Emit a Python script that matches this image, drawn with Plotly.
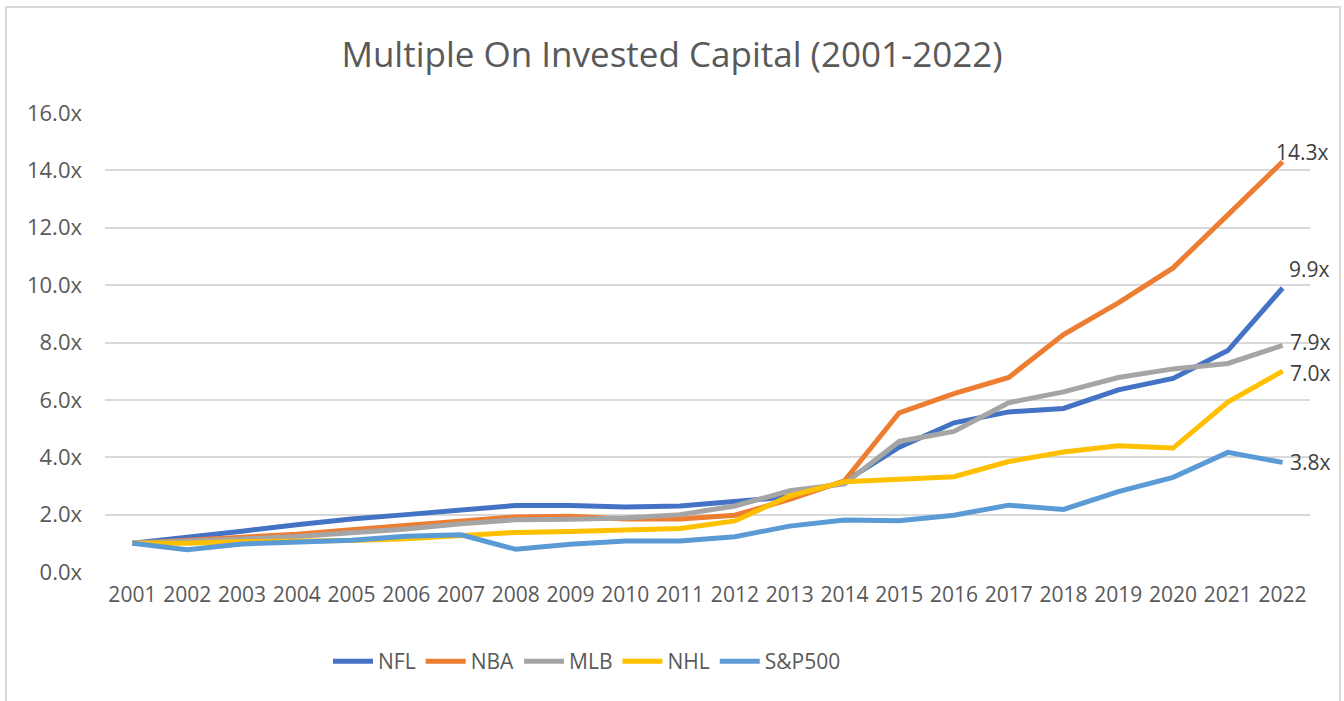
import plotly.graph_objects as go

years = [str(y) for y in range(2001, 2023)]
nfl = [1.0, 1.2, 1.42, 1.65, 1.85, 2.0, 2.15, 2.32, 2.32, 2.27, 2.3, 2.46, 2.62, 3.15, 4.35, 5.2, 5.58, 5.7, 6.35, 6.75, 7.72, 9.9]
nba = [1.0, 1.1, 1.2, 1.32, 1.47, 1.63, 1.8, 1.92, 1.94, 1.85, 1.85, 1.98, 2.53, 3.18, 5.55, 6.22, 6.78, 8.28, 9.38, 10.6, 12.45, 14.3]
mlb = [1.0, 1.06, 1.15, 1.24, 1.36, 1.5, 1.68, 1.82, 1.84, 1.88, 2.0, 2.3, 2.83, 3.07, 4.55, 4.9, 5.9, 6.28, 6.78, 7.08, 7.27, 7.9]
nhl = [1.0, 1.0, 1.06, 1.07, 1.1, 1.16, 1.27, 1.38, 1.41, 1.47, 1.52, 1.78, 2.65, 3.15, 3.23, 3.32, 3.85, 4.18, 4.4, 4.32, 5.92, 7.0]
sp500 = [1.0, 0.78, 0.98, 1.06, 1.11, 1.25, 1.3, 0.79, 0.97, 1.08, 1.08, 1.23, 1.6, 1.81, 1.79, 1.98, 2.33, 2.18, 2.8, 3.3, 4.17, 3.82]

series = [
    ("NFL", nfl, "#4472C4"),
    ("NBA", nba, "#ED7D31"),
    ("MLB", mlb, "#A5A5A5"),
    ("NHL", nhl, "#FFC000"),
    ("S&P500", sp500, "#5B9BD5"),
]
end_label_offsets = {"NBA": (20, 10), "NFL": (27, 19), "MLB": (28, 3), "NHL": (28, -2), "S&P500": (28, 0)}
y_ticks = [0, 2, 4, 6, 8, 10, 12, 14, 16]
y_ticktext = [f"{v:.1f}x" for v in y_ticks]

FONT = "Open Sans, sans-serif"
fig = go.Figure()
for name, vals, color in series:
    fig.add_trace(go.Scatter(x=years, y=vals, name=name, mode="lines",
                             line=dict(color=color, width=5)))

last_idx = len(years) - 1
for name, vals, color in series:
    dx, dy = end_label_offsets[name]
    fig.add_annotation(x=last_idx, y=vals[-1], xref="x", yref="y",
                       text=f"{vals[-1]:.1f}x", showarrow=False,
                       xshift=dx, yshift=dy, xanchor="center", yanchor="middle",
                       font=dict(family=FONT, size=21, color="#404040"))

fig.add_shape(type="rect", xref="paper", yref="paper",
              x0=(6 - 105) / 1205, x1=(1340 - 105) / 1205,
              y0=(572 - 703) / 459, y1=(572 - 7) / 459,
              line=dict(color="#d9d9d9", width=2), layer="below")

fig.update_layout(
    width=1344, height=701,
    margin=dict(l=105, r=34, t=113, b=129),
    paper_bgcolor="white", plot_bgcolor="white",
    title=dict(text="Multiple On Invested Capital (2001-2022)", x=0.5, xanchor="center",
               y=1 - 55 / 701, yanchor="middle",
               font=dict(family=FONT, size=35, color="#595959")),
    font=dict(family=FONT, size=22, color="#595959"),
    xaxis=dict(type="category", range=[-0.5, 21.5], showgrid=False, showline=False,
               ticks="", tickfont=dict(size=21, color="#595959"), ticklabelstandoff=8),
    yaxis=dict(range=[0, 16], tickvals=y_ticks, ticktext=y_ticktext, showgrid=True,
               gridcolor="#d9d9d9", gridwidth=1.5, zeroline=False, showline=False,
               ticks="", tickfont=dict(size=22, color="#595959"), ticklabelstandoff=22),
    legend=dict(orientation="h", x=0.40, xanchor="center", y=-0.195, yanchor="middle",
                font=dict(size=21, color="#595959"), itemwidth=40),
    showlegend=True,
)

fig.write_html("out.html")
